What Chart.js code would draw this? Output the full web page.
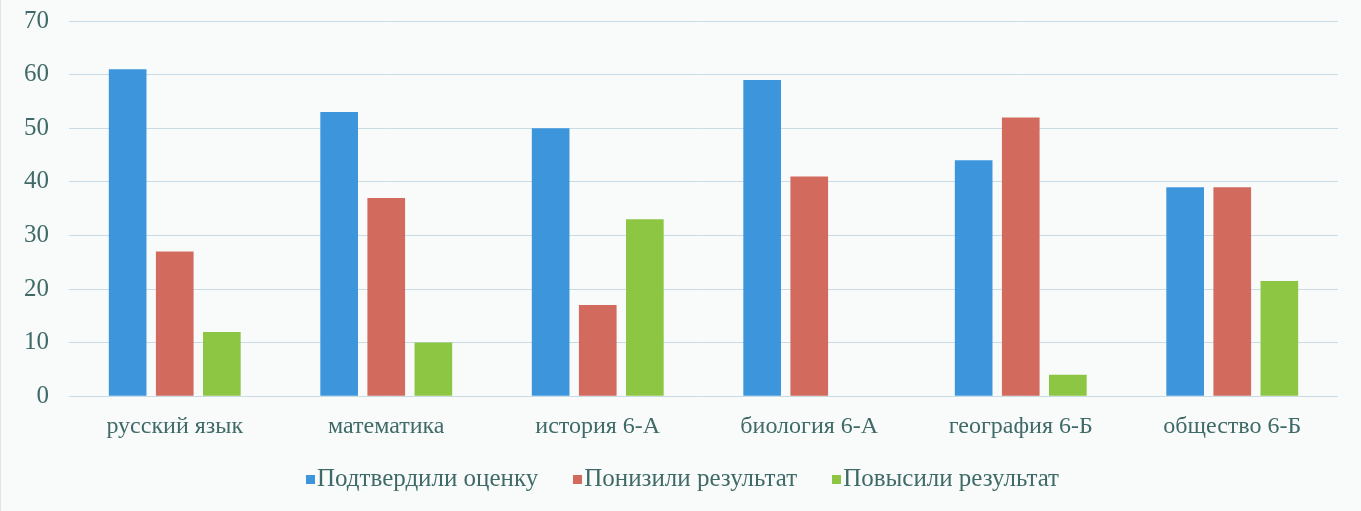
<!DOCTYPE html>
<html>
<head>
<meta charset="utf-8">
<script src="https://cdn.jsdelivr.net/npm/chart.js@4"></script>
<style>
    html, body { margin: 0; padding: 0; background: #f9fbfb; }
    #wrap { position: relative; width: 1361px; height: 511px; border-left: 1px solid #e2e6e6; box-sizing: border-box; }
    #legend {
        position: absolute; left: 305px; top: 464px; height: 28px;
        display: flex; align-items: center;
        font-family: "Liberation Serif", "DejaVu Serif", serif; font-size: 25px; line-height: 28px;
        color: #3f6a67; white-space: nowrap;
    }
    .item { display: flex; align-items: center; margin-right: 35px; }
    .box { width: 9px; height: 9px; margin-right: 2px; margin-top: 2px; }
</style>
</head>
<body>
<div id="wrap">
    <canvas id="resultsChart" width="1360" height="511"></canvas>
    <div id="legend"></div>
</div>
<script>
const subjects = ['русский язык', 'математика', 'история 6-А', 'биология 6-А', 'география 6-Б', 'общество 6-Б'];
const seriesNames = ['Подтвердили оценку', 'Понизили результат', 'Повысили результат'];
const confirmed = [61, 53, 50, 59, 44, 39];
const lowered = [27, 37, 17, 41, 52, 39];
const raised = [12, 10, 33, 0, 4, 21.5];
const yTicks = [0, 10, 20, 30, 40, 50, 60, 70];

const textColor = '#3f6a67';
const serif = '"Liberation Serif", "DejaVu Serif", serif';
const seriesColors = ['#3d96dc', '#d26a5e', '#8cc642'];

document.addEventListener('DOMContentLoaded', function() {
    const ctx = document.getElementById('resultsChart').getContext('2d');

    const chart = new Chart(ctx, {
        type: 'bar',
        data: {
            labels: subjects,
            datasets: [
                { label: seriesNames[0], data: confirmed, backgroundColor: seriesColors[0] },
                { label: seriesNames[1], data: lowered, backgroundColor: seriesColors[1] },
                { label: seriesNames[2], data: raised, backgroundColor: seriesColors[2] }
            ]
        },
        options: {
            responsive: false,
            animation: false,
            categoryPercentage: 0.668,
            barPercentage: 0.8,
            layout: {
                padding: { top: 21, right: 23, bottom: 62, left: 0 }
            },
            plugins: {
                tooltip: { enabled: false },
                legend: { display: false }
            },
            scales: {
                x: {
                    grid: { display: false },
                    border: { display: false },
                    ticks: {
                        color: textColor,
                        font: { family: serif, size: 24 },
                        padding: 8
                    }
                },
                y: {
                    min: 0,
                    max: 70,
                    afterFit: function(scale) {
                        scale.width = 68;
                        scale.paddingTop = 0;
                    },
                    afterBuildTicks: function(scale) {
                        scale.ticks = yTicks.map(v => ({ value: v }));
                    },
                    grid: {
                        color: '#c9dce5',
                        lineWidth: 1,
                        drawTicks: false
                    },
                    border: { display: false },
                    ticks: {
                        color: textColor,
                        font: { family: serif, size: 25 },
                        padding: 20
                    }
                }
            }
        }
    });

    // legend built from the chart's datasets
    const legend = document.getElementById('legend');
    chart.data.datasets.forEach(ds => {
        const item = document.createElement('div');
        item.className = 'item';
        const box = document.createElement('span');
        box.className = 'box';
        box.style.background = ds.backgroundColor;
        const label = document.createElement('span');
        label.textContent = ds.label;
        item.appendChild(box);
        item.appendChild(label);
        legend.appendChild(item);
    });
});
</script>
</body>
</html>
